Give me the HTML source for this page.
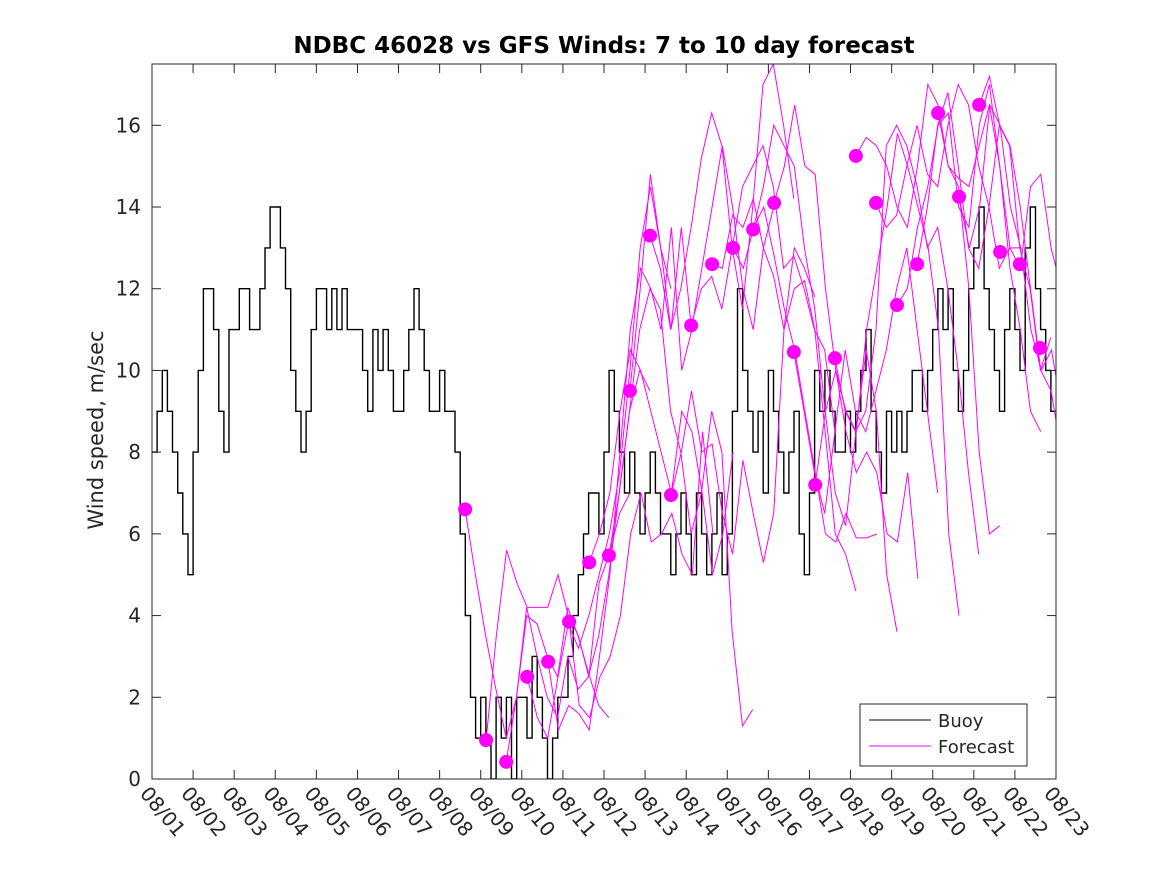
<!DOCTYPE html>
<html><head><meta charset="utf-8">
<style>
html,body{margin:0;padding:0;background:#fff;}
svg{display:block;font-family:"DejaVu Sans","Liberation Sans",sans-serif;}
</style></head>
<body>
<svg id="chart" width="1167" height="875" viewBox="0 0 1167 875" xmlns="http://www.w3.org/2000/svg">
<rect x="0" y="0" width="1167" height="875" fill="#fff"/>
<text x="604" y="53" text-anchor="middle" font-size="23" font-weight="bold" fill="#000">NDBC 46028 vs GFS Winds: 7 to 10 day forecast</text>
<text transform="translate(103,430) rotate(-90)" text-anchor="middle" font-size="21" fill="#262626">Wind speed, m/sec</text>
<g id="plot"></g>
</svg>
<script>
const xTickLabels=["08/01","08/02","08/03","08/04","08/05","08/06","08/07","08/08","08/09","08/10","08/11","08/12","08/13","08/14","08/15","08/16","08/17","08/18","08/19","08/20","08/21","08/22","08/23"];
const yTicks=[0,2,4,6,8,10,12,14,16];
const buoyStepHours=3;
const buoy=[
8,9,10,9,8,7,6,5,
8,10,12,12,11,9,8,11,
11,12,12,11,11,12,13,14,
14,13,12,10,9,8,9,11,
12,12,11,12,11,12,11,11,
11,10,9,11,10,11,10,9,
9,10,11,12,11,10,9,9,
10,9,9,8,6,4,2,1,
2,1,0,2,1,2,0,2,
2,1,3,2,1,0,1,2,
2,3,4,5,6,7,7,6,
8,10,9,8,7,8,7,6,
7,8,7,6,6,5,6,7,
6,5,7,6,5,6,7,5,
6,9,12,10,9,8,9,7,
10,9,8,7,8,9,6,5,
7,10,9,10,9,8,8,9,
8,9,10,11,9,8,7,9,
8,9,8,9,10,10,9,10,
11,12,11,12,10,9,10,12,
13,14,12,11,10,9,11,12,
11,10,13,14,12,11,10,9];
const dotDays=[7.62,8.13,8.62,9.13,9.64,10.15,10.64,11.12,11.63,12.12,12.63,13.12,13.63,14.14,14.63,15.14,15.62,16.14,16.62,17.13,17.62,18.13,18.62,19.13,19.64,20.13,20.64,21.12,21.61];
const dotVals=[6.6,0.95,0.42,2.5,2.87,3.85,5.3,5.47,9.5,13.3,6.95,11.1,12.6,13.0,13.45,14.1,10.45,7.2,10.3,15.25,14.1,11.6,12.6,16.3,14.25,16.5,12.9,12.6,10.55];
const fcStepDays=0.25;
const fcStarts=[7.62,8.13,8.62,9.13,9.64,10.15,10.64,11.12,11.63,12.12,12.63,13.12,13.63,14.14,14.63,15.14,15.62,16.14,16.62,17.13,17.62,18.13,18.62,19.13,19.64,20.13];
const fc1=[6.6,5,3.5,2.2,1,2,4,3.8,3,2.5,4.2,3.5,2.6,1.8,1.5];
const fc2=[0.95,3.5,5.6,4.8,4.2,4.2,4.2,5,4,3.5,2.5,4.8,5.5,6.5,7];
const fc3=[0.42,2,4.2,3,2,1.5,3,2.2,2.5,3.5,5,7,9,10,9.5];
const fc4=[2.5,1.5,1,2.5,3.8,3.2,4,5,6,7.5,10,13,14.5,13,12];
const fc5=[2.87,1.2,1.8,1.6,1.2,3,5,8,11,12.5,12,11,13.5,10,11];
const fc6=[3.85,1.8,1.5,2.5,3,4,6,7,5.8,6,6.5,5.5,5,8.5,6];
const fc7=[5.3,6,7,9,10.5,10,9,8,7,9,8.5,7,5,6,8];
const fc8=[5.47,7,9,11,12,11.5,9,8,6,7,9,8,3.6,1.3,1.7];
const fc9=[9.5,12,14.8,13,11,13.5,11,12.5,14,15.5,14,12,11,13,14];
const fc10=[13.3,12.5,11,12,13.5,15.2,16.3,15.5,13,11.5,14,17,17.5,16,14.2];
const fc11=[6.95,8,9.5,8,8.2,6.5,5.5,7.8,6.5,5.3,6.5,11,13,12.5,11.8];
const fc12=[11.1,12,12.3,11.5,13,14.5,15,15.5,14.5,12.5,12.8,12,11,10.5,8.5];
const fc13=[12.6,12.5,13.8,13.5,14.2,13,12.3,11,12,12.2,11,8.5,6,5.5,4.6];
const fc14=[13,12.5,13.5,14,12.8,11.5,10.5,9,7.5,6,5.8,6.5,5.9,5.9,6];
const fc15=[13.45,14.5,16,15.5,15,13,11.5,9,7,6.2,8.5,10.5,9,5,3.6];
const fc16=[14.1,15,16.5,15,14.8,12,10,8.5,7.5,8,7.5,6,5.8,7.5,4.9];
const fc17=[10.45,9,7.5,6.5,8.5,10.5,9,8.5,9.5,10.5,12,13,11,9,7];
const fc18=[7.2,9,10,9,8.5,11,12.5,14,15.8,15,14,13,11,6,4];
const fc19=[10.3,9,8.5,9,11,15.5,16,15.5,14.5,13,13.5,12,10,7.5,5.5];
const fc20=[15.25,15.7,15.5,15,14,13.5,15,17,16.5,15,14.5,12,8,6,6.2];
const fc21=[14.1,13.5,13.8,15,16,14.8,14.5,16,17,16.5,15,14,12.5,13,13];
const fc22=[11.6,12,13.5,14.5,16,16.3,14,13.5,16,17,15,12.5,11,9,8.5];
const fc23=[12.6,14,16,16.8,15,13,12.5,14,16,15.5,13,12,10,10.8];
const fc24=[16.3,15,14.7,14.5,15.5,16.5,15,13,12.5,14.5,14.8,13,12,10,8.3];
const fc25=[14.25,13,14,16.5,16,14,13,11,10,10.5,9,8.5,8.3,9,10.8];
const fc26=[16.5,17.2,16,15.5,14,12,10,9.5,8,7,6,4.5,3,2.5,2.6];
const fcSeries=[fc1,fc2,fc3,fc4,fc5,fc6,fc7,fc8,fc9,fc10,fc11,fc12,fc13,fc14,fc15,fc16,fc17,fc18,fc19,fc20,fc21,fc22,fc23,fc24,fc25,fc26];

const X0=152,X1=1056,Y0=779,Y1=64,DMAX=22,VMAX=17.5;
const xs=d=>X0+(d/DMAX)*(X1-X0);
const ys=v=>Y0-(v/VMAX)*(Y0-Y1);
const NS="http://www.w3.org/2000/svg";
const plot=document.getElementById('plot');
function mk(tag,attrs,parent){const e=document.createElementNS(NS,tag);for(const k in attrs)e.setAttribute(k,attrs[k]);(parent||plot).appendChild(e);return e;}

const defs=mk('defs',{});
const cp=mk('clipPath',{id:'clip'},defs);
mk('rect',{x:X0,y:Y1,width:X1-X0,height:Y0-Y1},cp);

let d='';
buoy.forEach((v,i)=>{const x0=xs(i*buoyStepHours/24),x1=xs((i+1)*buoyStepHours/24);d+=(i===0?'M':'L')+x0.toFixed(1)+','+ys(v).toFixed(1)+'L'+x1.toFixed(1)+','+ys(v).toFixed(1);});
const bl=mk('path',{d:d,fill:'none',stroke:'#000','stroke-width':1.4,'clip-path':'url(#clip)'});



fcSeries.forEach((s,k)=>{
  const pd=s.map((v,i)=>(i===0?'M':'L')+xs(fcStarts[k]+i*fcStepDays).toFixed(1)+','+ys(v).toFixed(1)).join('');
  const p=mk('path',{d:pd,fill:'none',stroke:'#ff00ff','stroke-width':1,'clip-path':'url(#clip)'});
  
  
});
dotDays.forEach((dd,i)=>{
  const c=mk('circle',{cx:xs(dd),cy:ys(dotVals[i]),r:7,fill:'#ff00ff'});
  
  
});

const box=mk('rect',{x:X0,y:Y1,width:X1-X0,height:Y0-Y1,fill:'none',stroke:'#262626','stroke-width':1});



yTicks.forEach(v=>{
  const y=ys(v);
  mk('line',{x1:X0,y1:y,x2:X0+9,y2:y,stroke:'#262626'});
  mk('line',{x1:X1,y1:y,x2:X1-9,y2:y,stroke:'#262626'});
  const t=mk('text',{x:X0-11,y:y+7,'text-anchor':'end','font-size':20,fill:'#262626'});
  t.textContent=v;
  
  
});
xTickLabels.forEach((lab,i)=>{
  const x=xs(i);
  mk('line',{x1:x,y1:Y0,x2:x,y2:Y0-9,stroke:'#262626'});
  mk('line',{x1:x,y1:Y1,x2:x,y2:Y1+9,stroke:'#262626'});
  const t=mk('text',{transform:'translate('+(x-13)+',794) rotate(50)','font-size':20,fill:'#262626'});
  t.textContent=lab;
  
  
});

const lg=mk('g',{});


mk('rect',{x:860,y:704,width:167,height:62,fill:'#fff',stroke:'#262626'},lg);
mk('line',{x1:869,y1:720,x2:931,y2:720,stroke:'#000'},lg);
mk('line',{x1:869,y1:746,x2:931,y2:746,stroke:'#ff00ff'},lg);
const t1=mk('text',{x:938,y:727,'font-size':18,fill:'#262626'},lg);t1.textContent='Buoy';


const t2=mk('text',{x:938,y:753,'font-size':18,fill:'#262626'},lg);t2.textContent='Forecast';


</script>
</body></html>
